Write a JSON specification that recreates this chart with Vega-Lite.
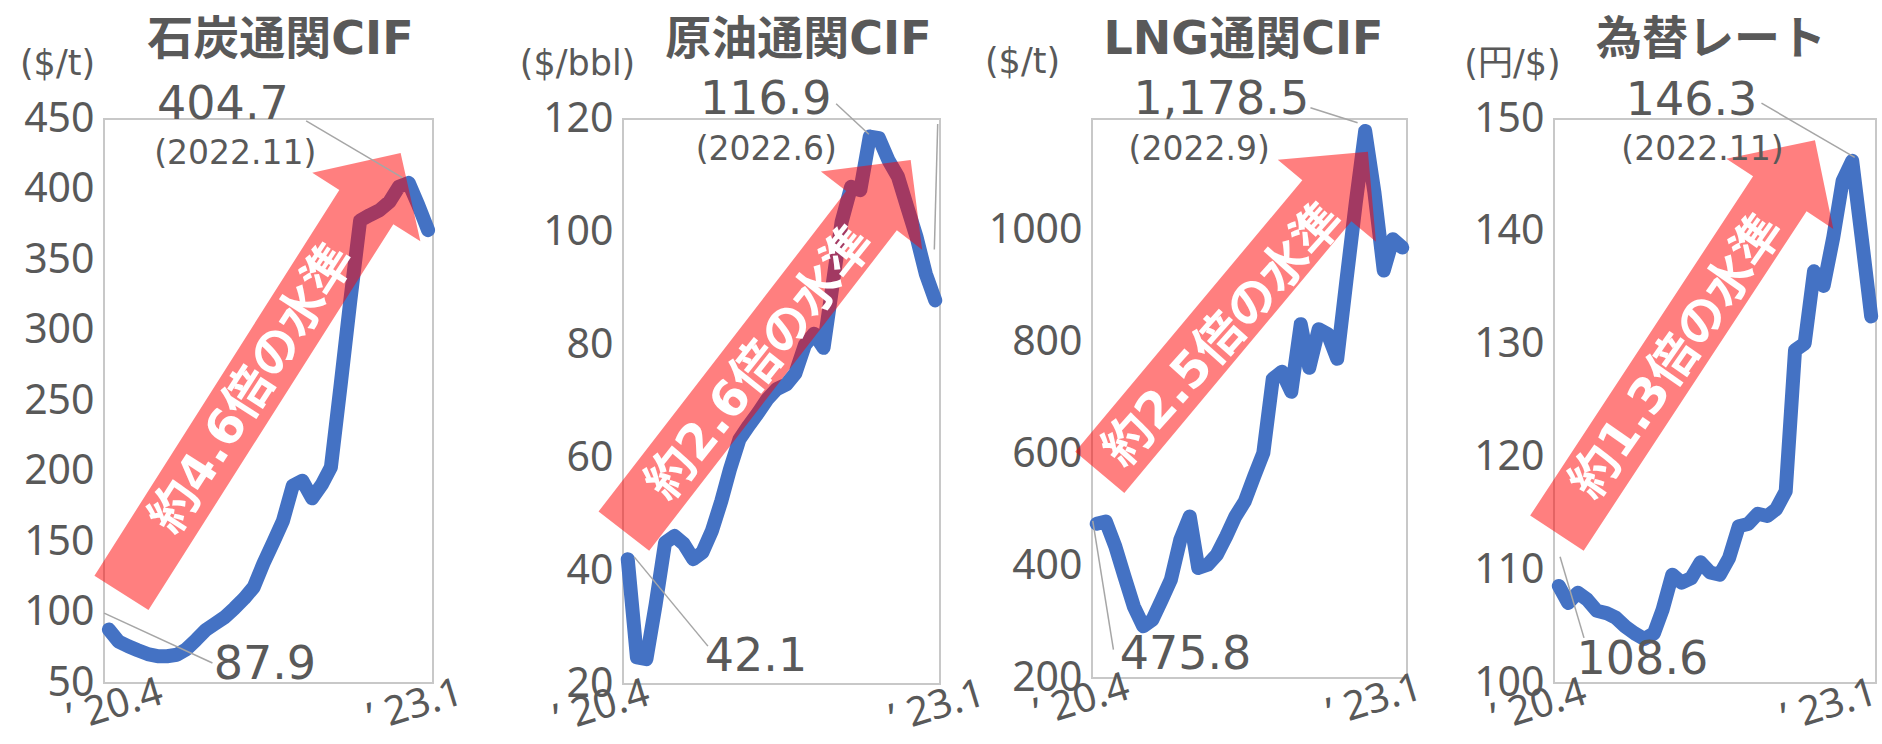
{
  "$schema": "https://vega.github.io/schema/vega-lite/v6.json",
  "background": "white",
  "padding": {"left": 18, "top": 16, "right": 10, "bottom": 26},
  "bounds": "flush",
  "spacing": 0,
  "datasets": {
    "coal": [
      {"date": "2020-04-01", "value": 87.9}, {"date": "2020-05-01", "value": 79.5}, {"date": "2020-06-01", "value": 76}, {"date": "2020-07-01", "value": 73.2},
      {"date": "2020-08-01", "value": 70.5}, {"date": "2020-09-01", "value": 69}, {"date": "2020-10-01", "value": 69}, {"date": "2020-11-01", "value": 70},
      {"date": "2020-12-01", "value": 74}, {"date": "2021-01-01", "value": 80.7}, {"date": "2021-02-01", "value": 87.8}, {"date": "2021-03-01", "value": 92},
      {"date": "2021-04-01", "value": 96.7}, {"date": "2021-05-01", "value": 103}, {"date": "2021-06-01", "value": 110}, {"date": "2021-07-01", "value": 118},
      {"date": "2021-08-01", "value": 135}, {"date": "2021-09-01", "value": 150}, {"date": "2021-10-01", "value": 165}, {"date": "2021-11-01", "value": 190},
      {"date": "2021-12-01", "value": 193.5}, {"date": "2022-01-01", "value": 181}, {"date": "2022-02-01", "value": 191}, {"date": "2022-03-01", "value": 203},
      {"date": "2022-04-01", "value": 262}, {"date": "2022-05-01", "value": 321}, {"date": "2022-06-01", "value": 378}, {"date": "2022-07-01", "value": 381.8},
      {"date": "2022-08-01", "value": 385.3}, {"date": "2022-09-01", "value": 391.2}, {"date": "2022-10-01", "value": 401.9}, {"date": "2022-11-01", "value": 404.7},
      {"date": "2022-12-01", "value": 389}, {"date": "2023-01-01", "value": 371.2}
    ],
    "crude": [
      {"date": "2020-04-01", "value": 42.1}, {"date": "2020-05-01", "value": 24.7}, {"date": "2020-06-01", "value": 24.4}, {"date": "2020-07-01", "value": 34},
      {"date": "2020-08-01", "value": 45}, {"date": "2020-09-01", "value": 46.2}, {"date": "2020-10-01", "value": 44.8}, {"date": "2020-11-01", "value": 42.1},
      {"date": "2020-12-01", "value": 43.3}, {"date": "2021-01-01", "value": 47.1}, {"date": "2021-02-01", "value": 52.4}, {"date": "2021-03-01", "value": 58},
      {"date": "2021-04-01", "value": 63.3}, {"date": "2021-05-01", "value": 65.7}, {"date": "2021-06-01", "value": 68}, {"date": "2021-07-01", "value": 70.4},
      {"date": "2021-08-01", "value": 72.2}, {"date": "2021-09-01", "value": 73}, {"date": "2021-10-01", "value": 75}, {"date": "2021-11-01", "value": 80},
      {"date": "2021-12-01", "value": 82}, {"date": "2022-01-01", "value": 79.5}, {"date": "2022-02-01", "value": 91.2}, {"date": "2022-03-01", "value": 101.8},
      {"date": "2022-04-01", "value": 108}, {"date": "2022-05-01", "value": 107.4}, {"date": "2022-06-01", "value": 116.9}, {"date": "2022-07-01", "value": 116.6},
      {"date": "2022-08-01", "value": 112.7}, {"date": "2022-09-01", "value": 109.8}, {"date": "2022-10-01", "value": 104.5}, {"date": "2022-11-01", "value": 99.1},
      {"date": "2022-12-01", "value": 92.6}, {"date": "2023-01-01", "value": 87.9}
    ],
    "lng": [
      {"date": "2020-04-01", "value": 475.8}, {"date": "2020-05-01", "value": 480}, {"date": "2020-06-01", "value": 435.6}, {"date": "2020-07-01", "value": 382},
      {"date": "2020-08-01", "value": 328}, {"date": "2020-09-01", "value": 292.5}, {"date": "2020-10-01", "value": 304}, {"date": "2020-11-01", "value": 340},
      {"date": "2020-12-01", "value": 376}, {"date": "2021-01-01", "value": 447.4}, {"date": "2021-02-01", "value": 489}, {"date": "2021-03-01", "value": 396.8},
      {"date": "2021-04-01", "value": 402.7}, {"date": "2021-05-01", "value": 420.6}, {"date": "2021-06-01", "value": 453.5}, {"date": "2021-07-01", "value": 489},
      {"date": "2021-08-01", "value": 516}, {"date": "2021-09-01", "value": 560.8}, {"date": "2021-10-01", "value": 602.5}, {"date": "2021-11-01", "value": 735},
      {"date": "2021-12-01", "value": 748}, {"date": "2022-01-01", "value": 712}, {"date": "2022-02-01", "value": 833}, {"date": "2022-03-01", "value": 755},
      {"date": "2022-04-01", "value": 824}, {"date": "2022-05-01", "value": 815}, {"date": "2022-06-01", "value": 771}, {"date": "2022-07-01", "value": 910},
      {"date": "2022-08-01", "value": 1050}, {"date": "2022-09-01", "value": 1178.5}, {"date": "2022-10-01", "value": 1070}, {"date": "2022-11-01", "value": 929},
      {"date": "2022-12-01", "value": 985}, {"date": "2023-01-01", "value": 970}
    ],
    "fx": [
      {"date": "2020-04-01", "value": 108.6}, {"date": "2020-05-01", "value": 107.1}, {"date": "2020-06-01", "value": 108}, {"date": "2020-07-01", "value": 107.4},
      {"date": "2020-08-01", "value": 106.4}, {"date": "2020-09-01", "value": 106.2}, {"date": "2020-10-01", "value": 105.8}, {"date": "2020-11-01", "value": 105.0},
      {"date": "2020-12-01", "value": 104.4}, {"date": "2021-01-01", "value": 103.9}, {"date": "2021-02-01", "value": 104.4}, {"date": "2021-03-01", "value": 106.5},
      {"date": "2021-04-01", "value": 109.6}, {"date": "2021-05-01", "value": 108.9}, {"date": "2021-06-01", "value": 109.3}, {"date": "2021-07-01", "value": 110.7},
      {"date": "2021-08-01", "value": 109.8}, {"date": "2021-09-01", "value": 109.6}, {"date": "2021-10-01", "value": 111.1}, {"date": "2021-11-01", "value": 113.9},
      {"date": "2021-12-01", "value": 114.1}, {"date": "2022-01-01", "value": 115.0}, {"date": "2022-02-01", "value": 114.8}, {"date": "2022-03-01", "value": 115.4},
      {"date": "2022-04-01", "value": 117}, {"date": "2022-05-01", "value": 129.5}, {"date": "2022-06-01", "value": 130.1}, {"date": "2022-07-01", "value": 136.5},
      {"date": "2022-08-01", "value": 135.2}, {"date": "2022-09-01", "value": 139.5}, {"date": "2022-10-01", "value": 144.5}, {"date": "2022-11-01", "value": 146.3},
      {"date": "2022-12-01", "value": 139.6}, {"date": "2023-01-01", "value": 132.5}
    ],
    "coal_notes": [
      {"kind": "val", "label": "404.7", "date": "2021-03-26", "value": 460},
      {"kind": "when", "label": "(2022.11)", "date": "2021-05-04", "value": 425.5},
      {"kind": "val", "label": "87.9", "date": "2021-08-05", "value": 63.1},
      {"kind": "leader", "date": "2021-12-13", "value": 448.6, "date2": "2022-10-12", "value2": 408.4},
      {"kind": "leader", "date": "2020-03-17", "value": 99.6, "date2": "2021-02-21", "value2": 64.2},
      {"kind": "arrow", "date": "2021-07-24", "value": 269.9},
      {"kind": "badge", "label": "約4.6倍の水準", "date": "2021-06-28", "value": 258.5}
    ],
    "crude_notes": [
      {"kind": "val", "label": "116.9", "date": "2021-06-26", "value": 123.3},
      {"kind": "when", "label": "(2022.6)", "date": "2021-06-28", "value": 114.5},
      {"kind": "val", "label": "42.1", "date": "2021-05-25", "value": 24.7},
      {"kind": "leader", "date": "2022-02-11", "value": 122.7, "date2": "2022-05-29", "value2": 117.3},
      {"kind": "leader", "date": "2020-04-22", "value": 42.5, "date2": "2020-12-19", "value2": 26.7},
      {"kind": "leader", "date": "2023-01-09", "value": 119.1, "date2": "2022-12-29", "value2": 96.9},
      {"kind": "arrow", "date": "2021-07-01", "value": 79.9},
      {"kind": "badge", "label": "約2.6倍の水準", "date": "2021-06-09", "value": 76.7}
    ],
    "lng_notes": [
      {"kind": "val", "label": "1,178.5", "date": "2021-05-16", "value": 1233.1},
      {"kind": "when", "label": "(2022.9)", "date": "2021-03-04", "value": 1144.5},
      {"kind": "val", "label": "475.8", "date": "2021-01-18", "value": 242},
      {"kind": "leader", "date": "2022-03-05", "value": 1220.2, "date2": "2022-08-07", "value2": 1193.4},
      {"kind": "leader", "date": "2020-03-19", "value": 480.9, "date2": "2020-05-26", "value2": 250.6},
      {"kind": "arrow", "date": "2021-06-26", "value": 854.7},
      {"kind": "badge", "label": "約2.5倍の水準", "date": "2021-05-24", "value": 812.7}
    ],
    "fx_notes": [
      {"kind": "val", "label": "146.3", "date": "2021-06-02", "value": 151.6},
      {"kind": "when", "label": "(2022.11)", "date": "2021-07-07", "value": 147.25},
      {"kind": "val", "label": "108.6", "date": "2020-12-26", "value": 102.0},
      {"kind": "leader", "date": "2022-01-13", "value": 151.4, "date2": "2022-11-09", "value2": 146.6},
      {"kind": "leader", "date": "2020-04-05", "value": 111.2, "date2": "2020-06-21", "value2": 104.0},
      {"kind": "arrow", "date": "2021-05-15", "value": 130.7},
      {"kind": "badge", "label": "約1.3倍の水準", "date": "2021-04-18", "value": 128.9}
    ]
  },
  "hconcat": [
    {
      "width": 329, "height": 564,
      "title": {"text": "石炭通関CIF", "dx": 12, "dy": 22},
      "layer": [
        {
          "data": {"name": "coal"},
          "mark": {"type": "line", "color": "#4472C4", "strokeWidth": 14, "strokeJoin": "round", "strokeCap": "round"},
          "encoding": {
            "x": {"field": "date", "type": "temporal", "scale": {"type": "utc", "domain": [1584360000000, 1673870400000]},
              "axis": {"title": null, "values": [1585699200000, 1672531200000], "labelExpr": "'’ ' + utcFormat(datum.value, '%y.') + (utcmonth(datum.value) + 1)",
                "labelOffset": {"condition": {"test": "datum.value < 1600000000000", "value": 0}, "value": -19}}},
            "y": {"field": "value", "type": "quantitative", "scale": {"domain": [50, 450], "nice": false, "zero": false},
              "axis": {"values": [50, 100, 150, 200, 250, 300, 350, 400, 450], "format": "d", "title": "($/t)", "titleX": -47, "titleY": -56}}
          }
        },
        {
          "data": {"name": "coal_notes"}, "transform": [{"filter": "datum.kind === 'arrow'"}],
          "mark": {"type": "point", "shape": "M-1,-0.1228L0.7543,-0.1228L0.7543,-0.2457L1,0L0.7543,0.2457L0.7543,0.1228L-1,0.1228Z", "size": 271441, "angle": 302.4, "filled": true, "color": "#FF0000", "opacity": 0.5, "strokeWidth": 0},
          "encoding": {"x": {"field": "date", "type": "temporal"}, "y": {"field": "value", "type": "quantitative"}}
        },
        {
          "data": {"name": "coal_notes"}, "transform": [{"filter": "datum.kind === 'badge'"}],
          "mark": {"type": "text", "font": "DejaVu Sans, Noto Sans CJK JP", "fontWeight": "bold", "fontSize": 49, "color": "#FFFFFF", "angle": 302.8, "align": "center", "baseline": "middle"},
          "encoding": {"x": {"field": "date", "type": "temporal"}, "y": {"field": "value", "type": "quantitative"}, "text": {"field": "label"}}
        },
        {
          "data": {"name": "coal_notes"}, "transform": [{"filter": "datum.kind === 'leader'"}],
          "mark": {"type": "rule", "color": "#A6A6A6", "strokeWidth": 1.5},
          "encoding": {"x": {"field": "date", "type": "temporal"}, "y": {"field": "value", "type": "quantitative"}, "x2": {"field": "date2"}, "y2": {"field": "value2"}}
        },
        {
          "data": {"name": "coal_notes"}, "transform": [{"filter": "datum.kind === 'val'"}],
          "mark": {"type": "text", "font": "DejaVu Sans", "fontSize": 46, "color": "#595959", "align": "center", "baseline": "middle"},
          "encoding": {"x": {"field": "date", "type": "temporal"}, "y": {"field": "value", "type": "quantitative"}, "text": {"field": "label"}}
        },
        {
          "data": {"name": "coal_notes"}, "transform": [{"filter": "datum.kind === 'when'"}],
          "mark": {"type": "text", "font": "DejaVu Sans", "fontSize": 33, "color": "#595959", "align": "center", "baseline": "middle"},
          "encoding": {"x": {"field": "date", "type": "temporal"}, "y": {"field": "value", "type": "quantitative"}, "text": {"field": "label"}}
        }
      ]
    },
    {"width": 190, "height": 10, "view": {"stroke": null}, "data": {"values": []}, "mark": "point"},
    {
      "width": 317, "height": 565,
      "title": {"text": "原油通関CIF", "dx": 17, "dy": 22},
      "layer": [
        {
          "data": {"name": "crude"},
          "mark": {"type": "line", "color": "#4472C4", "strokeWidth": 14, "strokeJoin": "round", "strokeCap": "round"},
          "encoding": {
            "x": {"field": "date", "type": "temporal", "scale": {"type": "utc", "domain": [1584360000000, 1673870400000]},
              "axis": {"title": null, "values": [1585699200000, 1672531200000], "labelExpr": "'’ ' + utcFormat(datum.value, '%y.') + (utcmonth(datum.value) + 1)",
                "labelOffset": {"condition": {"test": "datum.value < 1600000000000", "value": -32}, "value": -4}}},
            "y": {"field": "value", "type": "quantitative", "scale": {"domain": [20, 120], "nice": false, "zero": false},
              "axis": {"values": [20, 40, 60, 80, 100, 120], "format": "d", "title": "($/bbl)", "titleX": -46, "titleY": -56}}
          }
        },
        {
          "data": {"name": "crude_notes"}, "transform": [{"filter": "datum.kind === 'arrow'"}],
          "mark": {"type": "point", "shape": "M-1,-0.1365L0.7271,-0.1365L0.7271,-0.2729L1,0L0.7271,0.2729L0.7271,0.1365L-1,0.1365Z", "size": 219961, "angle": 307.7, "filled": true, "color": "#FF0000", "opacity": 0.5, "strokeWidth": 0},
          "encoding": {"x": {"field": "date", "type": "temporal"}, "y": {"field": "value", "type": "quantitative"}}
        },
        {
          "data": {"name": "crude_notes"}, "transform": [{"filter": "datum.kind === 'badge'"}],
          "mark": {"type": "text", "font": "DejaVu Sans, Noto Sans CJK JP", "fontWeight": "bold", "fontSize": 49, "color": "#FFFFFF", "angle": 308.5, "align": "center", "baseline": "middle"},
          "encoding": {"x": {"field": "date", "type": "temporal"}, "y": {"field": "value", "type": "quantitative"}, "text": {"field": "label"}}
        },
        {
          "data": {"name": "crude_notes"}, "transform": [{"filter": "datum.kind === 'leader'"}],
          "mark": {"type": "rule", "color": "#A6A6A6", "strokeWidth": 1.5},
          "encoding": {"x": {"field": "date", "type": "temporal"}, "y": {"field": "value", "type": "quantitative"}, "x2": {"field": "date2"}, "y2": {"field": "value2"}}
        },
        {
          "data": {"name": "crude_notes"}, "transform": [{"filter": "datum.kind === 'val'"}],
          "mark": {"type": "text", "font": "DejaVu Sans", "fontSize": 46, "color": "#595959", "align": "center", "baseline": "middle"},
          "encoding": {"x": {"field": "date", "type": "temporal"}, "y": {"field": "value", "type": "quantitative"}, "text": {"field": "label"}}
        },
        {
          "data": {"name": "crude_notes"}, "transform": [{"filter": "datum.kind === 'when'"}],
          "mark": {"type": "text", "font": "DejaVu Sans", "fontSize": 33, "color": "#595959", "align": "center", "baseline": "middle"},
          "encoding": {"x": {"field": "date", "type": "temporal"}, "y": {"field": "value", "type": "quantitative"}, "text": {"field": "label"}}
        }
      ]
    },
    {"width": 152, "height": 10, "view": {"stroke": null}, "data": {"values": []}, "mark": "point"},
    {
      "width": 315, "height": 559,
      "title": {"text": "LNG通関CIF", "dx": -6, "dy": 24},
      "layer": [
        {
          "data": {"name": "lng"},
          "mark": {"type": "line", "color": "#4472C4", "strokeWidth": 14, "strokeJoin": "round", "strokeCap": "round"},
          "encoding": {
            "x": {"field": "date", "type": "temporal", "scale": {"type": "utc", "domain": [1584360000000, 1673870400000]},
              "axis": {"title": null, "values": [1585699200000, 1672531200000], "labelExpr": "'’ ' + utcFormat(datum.value, '%y.') + (utcmonth(datum.value) + 1)",
                "labelOffset": {"condition": {"test": "datum.value < 1600000000000", "value": -21}, "value": -34}}},
            "y": {"field": "value", "type": "quantitative", "scale": {"domain": [200, 1200], "nice": false, "zero": false},
              "axis": {"values": [200, 400, 600, 800, 1000], "format": "d", "title": "($/t)", "titleX": -70, "titleY": -58}}
          }
        },
        {
          "data": {"name": "lng_notes"}, "transform": [{"filter": "datum.kind === 'arrow'"}],
          "mark": {"type": "point", "shape": "M-1,-0.1531L0.6938,-0.1531L0.6938,-0.3062L1,0L0.6938,0.3062L0.6938,0.1531L-1,0.1531Z", "size": 174724, "angle": 309.9, "filled": true, "color": "#FF0000", "opacity": 0.5, "strokeWidth": 0},
          "encoding": {"x": {"field": "date", "type": "temporal"}, "y": {"field": "value", "type": "quantitative"}}
        },
        {
          "data": {"name": "lng_notes"}, "transform": [{"filter": "datum.kind === 'badge'"}],
          "mark": {"type": "text", "font": "DejaVu Sans, Noto Sans CJK JP", "fontWeight": "bold", "fontSize": 49, "color": "#FFFFFF", "angle": 311.8, "align": "center", "baseline": "middle"},
          "encoding": {"x": {"field": "date", "type": "temporal"}, "y": {"field": "value", "type": "quantitative"}, "text": {"field": "label"}}
        },
        {
          "data": {"name": "lng_notes"}, "transform": [{"filter": "datum.kind === 'leader'"}],
          "mark": {"type": "rule", "color": "#A6A6A6", "strokeWidth": 1.5},
          "encoding": {"x": {"field": "date", "type": "temporal"}, "y": {"field": "value", "type": "quantitative"}, "x2": {"field": "date2"}, "y2": {"field": "value2"}}
        },
        {
          "data": {"name": "lng_notes"}, "transform": [{"filter": "datum.kind === 'val'"}],
          "mark": {"type": "text", "font": "DejaVu Sans", "fontSize": 46, "color": "#595959", "align": "center", "baseline": "middle"},
          "encoding": {"x": {"field": "date", "type": "temporal"}, "y": {"field": "value", "type": "quantitative"}, "text": {"field": "label"}}
        },
        {
          "data": {"name": "lng_notes"}, "transform": [{"filter": "datum.kind === 'when'"}],
          "mark": {"type": "text", "font": "DejaVu Sans", "fontSize": 33, "color": "#595959", "align": "center", "baseline": "middle"},
          "encoding": {"x": {"field": "date", "type": "temporal"}, "y": {"field": "value", "type": "quantitative"}, "text": {"field": "label"}}
        }
      ]
    },
    {"width": 147, "height": 10, "view": {"stroke": null}, "data": {"values": []}, "mark": "point"},
    {
      "width": 322, "height": 564,
      "title": {"text": "為替レート", "dx": -4, "dy": 22},
      "layer": [
        {
          "data": {"name": "fx"},
          "mark": {"type": "line", "color": "#4472C4", "strokeWidth": 14, "strokeJoin": "round", "strokeCap": "round"},
          "encoding": {
            "x": {"field": "date", "type": "temporal", "scale": {"type": "utc", "domain": [1584360000000, 1673870400000]},
              "axis": {"title": null, "values": [1585699200000, 1672531200000], "labelExpr": "'’ ' + utcFormat(datum.value, '%y.') + (utcmonth(datum.value) + 1)",
                "labelOffset": {"condition": {"test": "datum.value < 1600000000000", "value": -26}, "value": -48}}},
            "y": {"field": "value", "type": "quantitative", "scale": {"domain": [100, 150], "nice": false, "zero": false},
              "axis": {"values": [100, 110, 120, 130, 140, 150], "format": "d", "title": "(円/$)", "titleX": -42, "titleY": -56}}
          }
        },
        {
          "data": {"name": "fx_notes"}, "transform": [{"filter": "datum.kind === 'arrow'"}],
          "mark": {"type": "point", "shape": "M-1,-0.1362L0.7277,-0.1362L0.7277,-0.2723L1,0L0.7277,0.2723L0.7277,0.1362L-1,0.1362Z", "size": 220900, "angle": 303.3, "filled": true, "color": "#FF0000", "opacity": 0.5, "strokeWidth": 0},
          "encoding": {"x": {"field": "date", "type": "temporal"}, "y": {"field": "value", "type": "quantitative"}}
        },
        {
          "data": {"name": "fx_notes"}, "transform": [{"filter": "datum.kind === 'badge'"}],
          "mark": {"type": "text", "font": "DejaVu Sans, Noto Sans CJK JP", "fontWeight": "bold", "fontSize": 49, "color": "#FFFFFF", "angle": 304.9, "align": "center", "baseline": "middle"},
          "encoding": {"x": {"field": "date", "type": "temporal"}, "y": {"field": "value", "type": "quantitative"}, "text": {"field": "label"}}
        },
        {
          "data": {"name": "fx_notes"}, "transform": [{"filter": "datum.kind === 'leader'"}],
          "mark": {"type": "rule", "color": "#A6A6A6", "strokeWidth": 1.5},
          "encoding": {"x": {"field": "date", "type": "temporal"}, "y": {"field": "value", "type": "quantitative"}, "x2": {"field": "date2"}, "y2": {"field": "value2"}}
        },
        {
          "data": {"name": "fx_notes"}, "transform": [{"filter": "datum.kind === 'val'"}],
          "mark": {"type": "text", "font": "DejaVu Sans", "fontSize": 46, "color": "#595959", "align": "center", "baseline": "middle"},
          "encoding": {"x": {"field": "date", "type": "temporal"}, "y": {"field": "value", "type": "quantitative"}, "text": {"field": "label"}}
        },
        {
          "data": {"name": "fx_notes"}, "transform": [{"filter": "datum.kind === 'when'"}],
          "mark": {"type": "text", "font": "DejaVu Sans", "fontSize": 33, "color": "#595959", "align": "center", "baseline": "middle"},
          "encoding": {"x": {"field": "date", "type": "temporal"}, "y": {"field": "value", "type": "quantitative"}, "text": {"field": "label"}}
        }
      ]
    }
  ],
  "config": {
    "view": {"stroke": "#C8C8C8", "strokeWidth": 2},
    "title": {"font": "DejaVu Sans, Noto Sans CJK JP", "fontSize": 46, "fontWeight": "bold", "color": "#595959", "frame": "group", "anchor": "middle", "baseline": "alphabetic", "offset": 0},
    "axis": {"grid": false, "ticks": false, "domain": false, "labelFont": "Noto Sans", "labelColor": "#595959",
      "titleFont": "DejaVu Sans, Noto Sans CJK JP", "titleFontSize": 35, "titleFontWeight": "normal", "titleColor": "#595959"},
    "axisY": {"labelFontSize": 41, "labelPadding": 10, "titleAngle": 0, "titleAlign": "center", "titleBaseline": "middle"},
    "axisX": {"labelFontSize": 40, "labelAngle": -17, "labelAlign": "center", "labelBaseline": "top", "labelFlush": false, "labelOverlap": false, "labelPadding": 3}
  }
}
